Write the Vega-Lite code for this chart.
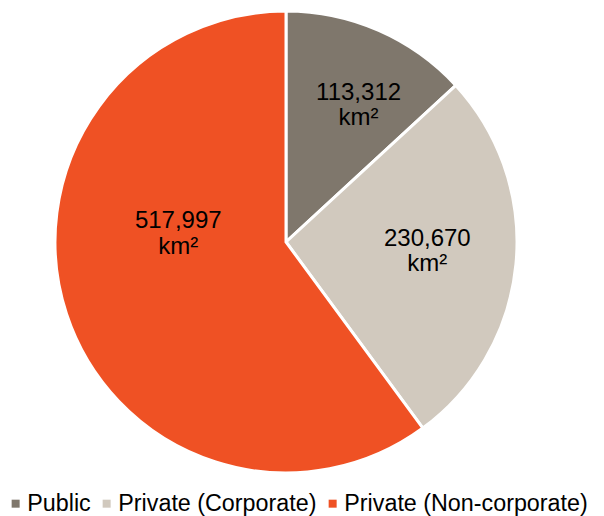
{
  "$schema": "https://vega.github.io/schema/vega-lite/v6.json",
  "autosize": "none",
  "padding": {"left": 0, "top": 0, "right": 32, "bottom": 32},
  "width": 572,
  "height": 484,
  "background": "white",
  "config": {"view": {"stroke": null}, "font": "Liberation Sans"},
  "data": {"values": [
    {"category": "Public", "area": 113312, "l1": "113,312", "order": 1},
    {"category": "Private (Corporate)", "area": 230670, "l1": "230,670", "order": 2},
    {"category": "Private (Non-corporate)", "area": 517997, "l1": "517,997", "order": 3}
  ]},
  "encoding": {
    "theta": {"field": "area", "type": "quantitative", "stack": true},
    "order": {"field": "order", "type": "quantitative"}
  },
  "layer": [
    {
      "mark": {"type": "arc", "outerRadius": 231, "stroke": "white", "strokeWidth": 3},
      "encoding": {
        "color": {
          "field": "category", "type": "nominal",
          "scale": {"domain": ["Public", "Private (Corporate)", "Private (Non-corporate)"], "range": ["#7f776c", "#d1c9be", "#ef5124"]},
          "legend": {
            "orient": "none", "direction": "horizontal", "legendX": 4, "legendY": 492,
            "title": null, "symbolType": "square", "symbolSize": 64, "symbolStrokeWidth": 0,
            "labelFontSize": 23.3, "labelColor": "black", "labelFont": "Liberation Sans",
            "columnPadding": 4, "labelOffset": 0, "symbolOffset": 0, "labelLimit": 400
          }
        }
      }
    },
    {
      "transform": [{"calculate": "datum.order == 1 ? datum.l1 : ''", "as": "t"}],
      "mark": {"type": "text", "radius": 146, "fontSize": 24, "color": "black", "dx": 14, "dy": -15},
      "encoding": {"text": {"field": "t"}}
    },
    {
      "transform": [{"calculate": "datum.order == 1 ? 'km²' : ''", "as": "t"}],
      "mark": {"type": "text", "radius": 146, "fontSize": 24, "color": "black", "dx": 14, "dy": 10},
      "encoding": {"text": {"field": "t"}}
    },
    {
      "transform": [{"calculate": "datum.order == 2 ? datum.l1 : ''", "as": "t"}],
      "mark": {"type": "text", "radius": 146, "fontSize": 24, "color": "black", "dx": -4, "dy": -17},
      "encoding": {"text": {"field": "t"}}
    },
    {
      "transform": [{"calculate": "datum.order == 2 ? 'km²' : ''", "as": "t"}],
      "mark": {"type": "text", "radius": 146, "fontSize": 24, "color": "black", "dx": -4, "dy": 8},
      "encoding": {"text": {"field": "t"}}
    },
    {
      "transform": [{"calculate": "datum.order == 3 ? datum.l1 : ''", "as": "t"}],
      "mark": {"type": "text", "radius": 146, "fontSize": 24, "color": "black", "dx": 31, "dy": -67},
      "encoding": {"text": {"field": "t"}}
    },
    {
      "transform": [{"calculate": "datum.order == 3 ? 'km²' : ''", "as": "t"}],
      "mark": {"type": "text", "radius": 146, "fontSize": 24, "color": "black", "dx": 31, "dy": -41},
      "encoding": {"text": {"field": "t"}}
    }
  ]
}
